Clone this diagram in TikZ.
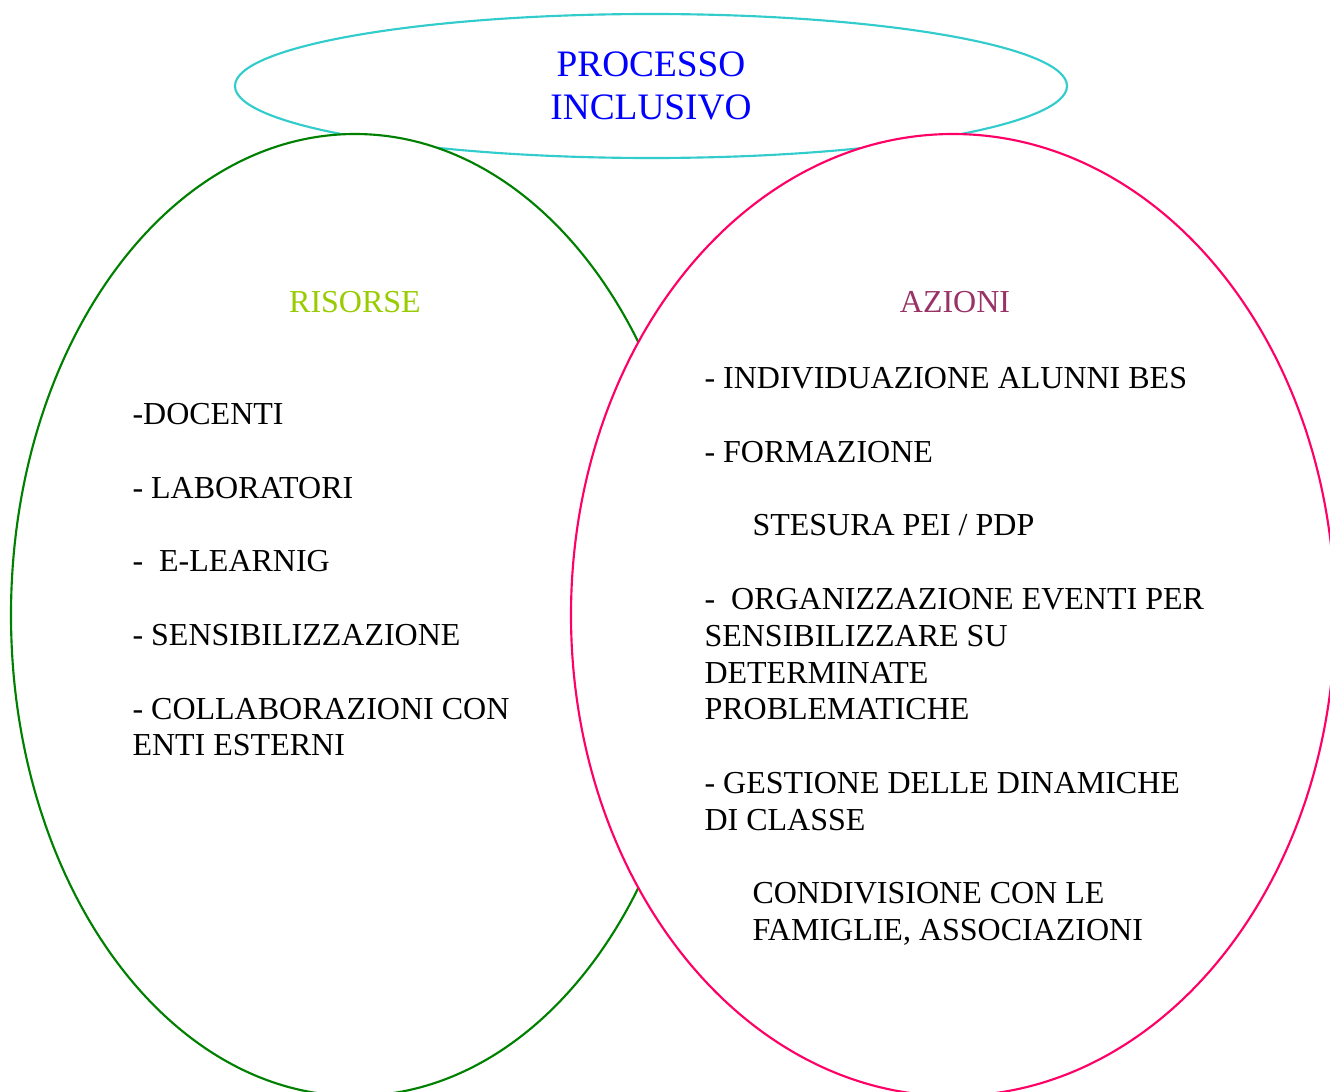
\documentclass[tikz,border=0pt]{standalone}
\usepackage{fontspec}
\setmainfont{Liberation Serif}
\usetikzlibrary{shapes.geometric}
\definecolor{ringcyan}{RGB}{51,204,204}
\definecolor{ringgreen}{RGB}{0,128,0}
\definecolor{ringpink}{RGB}{255,0,102}
\definecolor{risorsecol}{RGB}{153,204,0}
\definecolor{azionicol}{RGB}{153,51,102}

\begin{document}
\begin{tikzpicture}[x=0.375pt,y=-0.375pt,
    ring/.style={ellipse,draw=#1,fill=white,line width=0.8pt,inner sep=0pt},
    voce/.style={anchor=north west,align=left,inner sep=0pt,font=\fontsize{12}{13.8}\selectfont},
    titolo/.style={inner sep=0pt,font=\fontsize{12}{13.8}\selectfont}]
    \useasboundingbox (0,0) rectangle (1330,1092);
    \node[ring=ringcyan,minimum width=312pt,minimum height=54pt,text=blue,
      align=center,font=\fontsize{14}{16.1}\selectfont] (processo) at (651,86) {PROCESSO\\INCLUSIVO};
    \node[ring=ringgreen,minimum width=258pt,minimum height=360.75pt] (risorse) at (355,615) {};
    \node[ring=ringpink,minimum width=286.5pt,minimum height=360.75pt] (azioni) at (953,615) {};
    \node[titolo,text=risorsecol] (trisorse) at (355,302) {RISORSE};
    \node[titolo,text=azionicol] (tazioni) at (955,302) {AZIONI};
    \node[voce] (lrisorse) at (132,403) {-DOCENTI\\[13.8pt]
      - LABORATORI\\[13.8pt]
      -~ E-LEARNIG\\[13.8pt]
      - SENSIBILIZZAZIONE\\[13.8pt]
      - COLLABORAZIONI CON\\
      ENTI ESTERNI};
    \node[voce] (lazioni) at (704,367) {- INDIVIDUAZIONE ALUNNI BES\\[13.8pt]
      - FORMAZIONE\\[13.8pt]
      \hspace*{18pt}STESURA PEI / PDP\\[13.8pt]
      -~ ORGANIZZAZIONE EVENTI PER\\
      SENSIBILIZZARE SU\\
      DETERMINATE\\
      PROBLEMATICHE\\[13.8pt]
      - GESTIONE DELLE DINAMICHE\\
      DI CLASSE\\[13.8pt]
      \hspace*{18pt}CONDIVISIONE CON LE\\
      \hspace*{18pt}FAMIGLIE, ASSOCIAZIONI};
  \end{tikzpicture}
\end{document}
